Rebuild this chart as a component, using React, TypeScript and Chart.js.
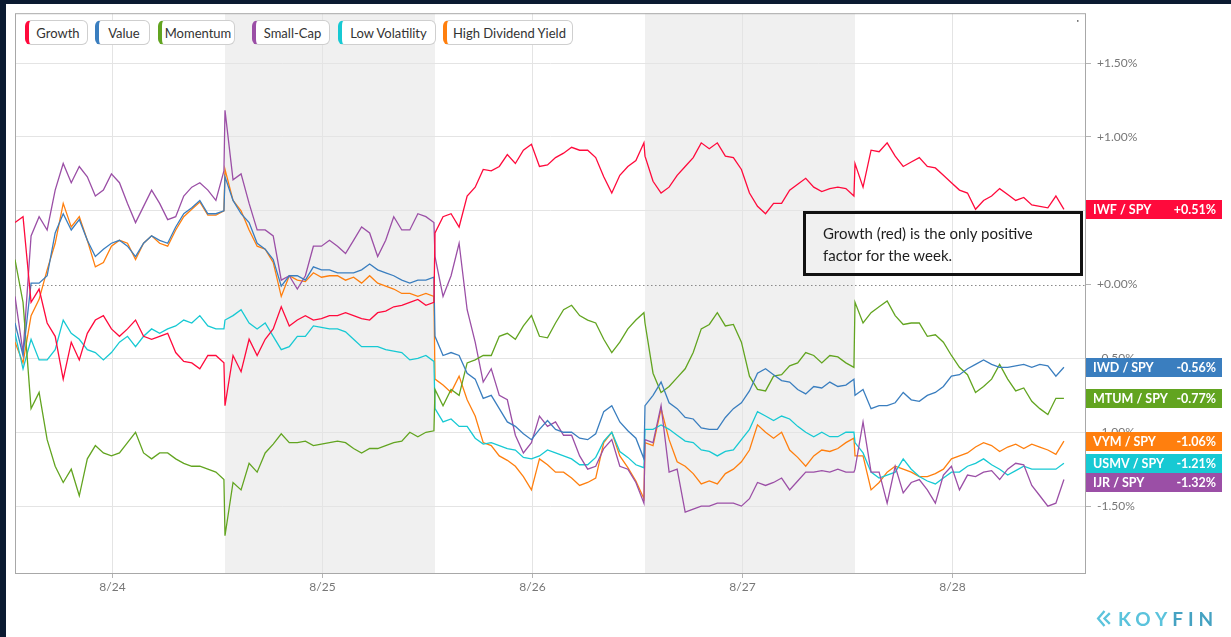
import React, { useEffect, useRef } from "react";
import { Chart, registerables } from "chart.js";

Chart.register(...registerables);

// ---- data ----
const DAY_LABELS = ["8/24", "8/25", "8/26", "8/27", "8/28"];
const MINUTES = [0, 15, 30, 45, 60, 75, 90, 105, 120, 135, 150, 165, 180, 195, 210, 225, 240, 255, 270, 285, 300, 315, 330, 345, 360, 375, 390];
const SESSION_MINUTES = 392;
const DAY_TICK_OFFSET = 0.464;
const SHADED_DAYS = [1, 3];
const Y_TICKS = [1.5, 1.0, 0.5, 0, -0.5, -1.0, -1.5];

const SERIES_NAMES = ["Growth", "Value", "Momentum", "Small-Cap", "Low Volatility", "High Dividend Yield"];
const TICKERS = ["IWF", "IWD", "MTUM", "IJR", "USMV", "VYM"];
const COLORS = ["#ff0a3c", "#3a7ebf", "#62a420", "#9b4fa6", "#17c9d3", "#ff7f0e"];

const growth = [
  0.42, 0.46, -0.12, -0.03, -0.26, -0.35, -0.64, -0.39, -0.51, -0.33, -0.24, -0.21, -0.30, -0.35, -0.30, -0.24, -0.35, -0.37, -0.35, -0.33, -0.46, -0.52, -0.53, -0.57, -0.48, -0.48, -0.53,
  -0.82, -0.48, -0.59, -0.37, -0.48, -0.37, -0.30, -0.15, -0.28, -0.24, -0.21, -0.24, -0.23, -0.21, -0.21, -0.19, -0.21, -0.23, -0.24, -0.19, -0.18, -0.15, -0.14, -0.12, -0.10, -0.14, -0.12,
  0.35, 0.46, 0.48, 0.39, 0.60, 0.66, 0.78, 0.77, 0.80, 0.88, 0.82, 0.91, 0.95, 0.80, 0.81, 0.86, 0.89, 0.93, 0.91, 0.91, 0.86, 0.73, 0.62, 0.74, 0.80, 0.84, 0.96,
  0.87, 0.70, 0.62, 0.66, 0.74, 0.80, 0.86, 0.96, 0.92, 0.96, 0.87, 0.86, 0.78, 0.62, 0.53, 0.48, 0.55, 0.55, 0.64, 0.68, 0.72, 0.66, 0.63, 0.65, 0.66, 0.65, 0.60,
  0.82, 0.66, 0.91, 0.90, 0.96, 0.87, 0.80, 0.83, 0.86, 0.80, 0.79, 0.74, 0.69, 0.64, 0.62, 0.51, 0.57, 0.60, 0.65, 0.61, 0.57, 0.59, 0.54, 0.53, 0.52, 0.60, 0.51,
];
const value = [
  -0.26, -0.48, 0.01, 0.01, 0.06, 0.35, 0.48, 0.37, 0.44, 0.30, 0.19, 0.24, 0.28, 0.30, 0.26, 0.19, 0.28, 0.33, 0.30, 0.28, 0.39, 0.48, 0.52, 0.57, 0.48, 0.48, 0.50,
  0.73, 0.57, 0.48, 0.42, 0.28, 0.24, 0.17, -0.01, 0.06, 0.06, 0.03, 0.12, 0.10, 0.10, 0.08, 0.08, 0.08, 0.10, 0.14, 0.10, 0.08, 0.06, 0.03, 0.01, 0.03, 0.03, 0.05,
  -0.35, -0.48, -0.46, -0.48, -0.60, -0.64, -0.77, -0.75, -0.84, -0.93, -0.96, -1.01, -1.05, -0.98, -0.92, -0.98, -1.00, -1.00, -1.04, -1.05, -1.01, -0.86, -0.82, -0.93, -0.99, -1.04, -1.18,
  -0.82, -0.75, -0.66, -0.80, -0.84, -0.90, -0.91, -0.97, -0.98, -0.98, -0.90, -0.84, -0.80, -0.72, -0.60, -0.57, -0.61, -0.65, -0.66, -0.71, -0.74, -0.69, -0.70, -0.66, -0.69, -0.68, -0.64,
  -0.75, -0.71, -0.84, -0.82, -0.82, -0.80, -0.73, -0.78, -0.79, -0.75, -0.73, -0.69, -0.62, -0.61, -0.57, -0.54, -0.51, -0.54, -0.56, -0.56, -0.55, -0.54, -0.56, -0.54, -0.55, -0.62, -0.56,
];
const momentum = [
  0.17, -0.12, -0.84, -0.73, -1.05, -1.23, -1.34, -1.25, -1.43, -1.18, -1.09, -1.14, -1.16, -1.14, -1.07, -1.00, -1.14, -1.18, -1.14, -1.14, -1.18, -1.21, -1.23, -1.23, -1.25, -1.27, -1.32,
  -1.70, -1.34, -1.39, -1.21, -1.27, -1.14, -1.08, -1.01, -1.07, -1.07, -1.06, -1.09, -1.08, -1.07, -1.06, -1.07, -1.11, -1.14, -1.11, -1.11, -1.09, -1.07, -1.06, -1.00, -1.03, -1.00, -0.99,
  -0.71, -0.82, -0.71, -0.75, -0.53, -0.51, -0.48, -0.48, -0.35, -0.33, -0.37, -0.28, -0.21, -0.35, -0.36, -0.26, -0.17, -0.14, -0.21, -0.24, -0.26, -0.37, -0.46, -0.39, -0.30, -0.24, -0.19,
  -0.26, -0.60, -0.73, -0.69, -0.63, -0.57, -0.46, -0.30, -0.27, -0.19, -0.28, -0.27, -0.39, -0.62, -0.71, -0.72, -0.62, -0.61, -0.55, -0.53, -0.46, -0.48, -0.53, -0.48, -0.49, -0.53, -0.56,
  -0.12, -0.26, -0.19, -0.15, -0.11, -0.21, -0.27, -0.26, -0.26, -0.35, -0.34, -0.39, -0.48, -0.56, -0.61, -0.73, -0.69, -0.64, -0.54, -0.64, -0.72, -0.70, -0.79, -0.84, -0.88, -0.77, -0.77,
];
const smallCap = [
  -0.08, -0.46, 0.33, 0.46, 0.37, 0.64, 0.82, 0.69, 0.80, 0.73, 0.60, 0.64, 0.75, 0.69, 0.55, 0.42, 0.53, 0.64, 0.55, 0.44, 0.46, 0.60, 0.66, 0.69, 0.64, 0.57, 0.77,
  1.18, 0.71, 0.75, 0.55, 0.37, 0.37, 0.33, 0.03, 0.06, -0.03, 0.06, 0.26, 0.26, 0.30, 0.26, 0.21, 0.30, 0.39, 0.35, 0.19, 0.30, 0.46, 0.37, 0.37, 0.48, 0.46, 0.42,
  0.19, -0.08, 0.06, 0.28, -0.17, -0.39, -0.66, -0.57, -0.75, -0.78, -1.02, -1.14, -1.07, -0.89, -0.96, -0.93, -1.02, -1.02, -1.16, -1.25, -1.23, -1.11, -1.05, -1.23, -1.25, -1.34, -1.48,
  -1.05, -1.07, -0.82, -1.27, -1.25, -1.54, -1.52, -1.50, -1.50, -1.48, -1.48, -1.48, -1.50, -1.45, -1.34, -1.36, -1.34, -1.31, -1.39, -1.33, -1.27, -1.27, -1.26, -1.27, -1.25, -1.27, -1.27,
  -1.25, -0.93, -1.27, -1.27, -1.48, -1.23, -1.41, -1.34, -1.32, -1.39, -1.48, -1.29, -1.23, -1.39, -1.29, -1.30, -1.27, -1.26, -1.32, -1.25, -1.21, -1.22, -1.36, -1.43, -1.50, -1.48, -1.32,
];
const lowVolatility = [
  -0.33, -0.57, -0.37, -0.51, -0.51, -0.44, -0.24, -0.33, -0.37, -0.44, -0.46, -0.51, -0.46, -0.39, -0.35, -0.42, -0.35, -0.30, -0.33, -0.30, -0.28, -0.24, -0.26, -0.21, -0.28, -0.30, -0.30,
  -0.24, -0.21, -0.17, -0.26, -0.30, -0.26, -0.35, -0.44, -0.42, -0.35, -0.35, -0.28, -0.29, -0.30, -0.30, -0.32, -0.37, -0.42, -0.42, -0.42, -0.44, -0.45, -0.46, -0.51, -0.50, -0.48, -0.52,
  -0.84, -0.93, -0.91, -0.96, -0.96, -1.04, -1.08, -1.07, -1.09, -1.11, -1.12, -1.17, -1.18, -1.16, -1.12, -1.14, -1.16, -1.18, -1.22, -1.22, -1.17, -1.06, -1.00, -1.13, -1.17, -1.22, -1.24,
  -0.98, -0.98, -0.95, -0.98, -1.02, -1.06, -1.07, -1.12, -1.13, -1.16, -1.13, -1.12, -1.05, -0.98, -0.86, -0.89, -0.92, -0.89, -0.91, -0.96, -1.00, -1.03, -1.00, -1.03, -1.03, -1.00, -1.00,
  -1.07, -1.14, -1.27, -1.31, -1.29, -1.27, -1.18, -1.25, -1.30, -1.33, -1.35, -1.31, -1.27, -1.27, -1.23, -1.21, -1.18, -1.22, -1.25, -1.29, -1.26, -1.23, -1.25, -1.25, -1.25, -1.25, -1.21,
];
const highDividendYield = [
  -0.39, -0.53, -0.21, -0.10, 0.10, 0.28, 0.55, 0.39, 0.46, 0.30, 0.12, 0.15, 0.26, 0.30, 0.28, 0.17, 0.28, 0.33, 0.28, 0.26, 0.37, 0.46, 0.51, 0.56, 0.47, 0.47, 0.50,
  0.78, 0.57, 0.50, 0.37, 0.26, 0.24, 0.15, -0.08, 0.06, 0.03, 0.02, 0.08, 0.05, 0.06, 0.06, 0.03, 0.05, 0.01, 0.06, 0.01, -0.01, -0.03, -0.06, -0.06, -0.08, -0.06, -0.08,
  -0.64, -0.68, -0.73, -0.62, -0.78, -0.89, -1.07, -1.09, -1.16, -1.19, -1.23, -1.30, -1.39, -1.18, -1.22, -1.27, -1.27, -1.31, -1.36, -1.34, -1.31, -1.07, -1.00, -1.16, -1.24, -1.33, -1.45,
  -1.07, -1.09, -0.84, -1.05, -1.20, -1.23, -1.28, -1.35, -1.33, -1.35, -1.28, -1.25, -1.20, -1.12, -0.95, -1.00, -1.04, -1.00, -1.12, -1.17, -1.23, -1.16, -1.12, -1.13, -1.11, -1.07, -1.04,
  -1.16, -1.16, -1.39, -1.34, -1.27, -1.23, -1.25, -1.27, -1.30, -1.30, -1.28, -1.25, -1.18, -1.16, -1.14, -1.10, -1.07, -1.09, -1.13, -1.10, -1.08, -1.11, -1.08, -1.10, -1.12, -1.15, -1.06,
];

const SERIES_VALUES = [growth, value, momentum, smallCap, lowVolatility, highDividendYield];

const ANNOTATION_LINES = ["Growth (red) is the only positive", "factor for the week."];

const FONT = "Lato, 'Open Sans', sans-serif";

function fmtPct(v: number) {
  const sign = v >= 0 ? "+" : "-";
  return sign + Math.abs(v).toFixed(2) + "%";
}

const BADGE_W = 136;
const BADGE_H = 19;

const bgPlugin = {
  id: "bgPlugin",
  beforeDraw(chart: any) {
    const { ctx, chartArea, scales } = chart;
    ctx.save();
    ctx.fillStyle = "#0b1a31";
    ctx.fillRect(0, 0, chart.width, chart.height);
    ctx.fillStyle = "#ffffff";
    ctx.fillRect(6, 4, chart.width - 6, chart.height - 4);
    ctx.fillStyle = "#f0f0f0";
    SHADED_DAYS.forEach((d) => {
      const x0 = scales.x.getPixelForValue(d);
      const x1 = scales.x.getPixelForValue(d + 1);
      ctx.fillRect(x0, chartArea.top, x1 - x0, chartArea.bottom - chartArea.top);
    });
    ctx.restore();
  },
  beforeDatasetsDraw(chart: any) {
    const { ctx, chartArea, scales } = chart;
    ctx.save();
    const y0 = Math.round(scales.y.getPixelForValue(0)) + 0.5;
    ctx.strokeStyle = "#8a8a8a";
    ctx.lineWidth = 1;
    ctx.setLineDash([1.5, 2.5]);
    ctx.beginPath();
    ctx.moveTo(chartArea.left, y0);
    ctx.lineTo(chartArea.right, y0);
    ctx.stroke();
    ctx.setLineDash([]);
    ctx.strokeStyle = "#a8a8a8";
    ctx.strokeRect(chartArea.left + 0.5, chartArea.top + 0.5, chartArea.right - chartArea.left - 1, chartArea.bottom - chartArea.top);
    ctx.fillStyle = "#555";
    ctx.fillRect(chartArea.right - 9, chartArea.top + 7, 1.5, 1.5);
    ctx.restore();
  },
  afterDraw(chart: any) {
    const { ctx, chartArea, scales } = chart;
    const items = SERIES_VALUES.map((vals, i) => {
      const last = vals[vals.length - 1];
      return { i, last, y: scales.y.getPixelForValue(last) };
    }).sort((a, b) => a.y - b.y);
    let prev = -Infinity;
    items.forEach((it) => {
      const c = Math.max(it.y, prev + BADGE_H + 0.5);
      prev = c;
      const x = chartArea.right;
      const top = Math.round(c - BADGE_H / 2);
      ctx.save();
      ctx.fillStyle = COLORS[it.i];
      ctx.fillRect(x, top, BADGE_W, BADGE_H);
      ctx.fillStyle = "#ffffff";
      ctx.font = "bold 12.5px " + FONT;
      ctx.textBaseline = "middle";
      ctx.textAlign = "left";
      ctx.fillText(TICKERS[it.i] + " / SPY", x + 7, top + BADGE_H / 2 + 0.5);
      ctx.textAlign = "right";
      ctx.fillText(fmtPct(it.last), x + BADGE_W - 6, top + BADGE_H / 2 + 0.5);
      ctx.restore();
    });
  },
};

function ChartCanvas() {
  const ref = useRef<HTMLCanvasElement | null>(null);
  useEffect(() => {
    if (!ref.current) return;
    const datasets = SERIES_NAMES.map((name, si) => ({
      label: name,
      data: SERIES_VALUES[si].map((v, k) => ({
        x: Math.floor(k / MINUTES.length) + MINUTES[k % MINUTES.length] / SESSION_MINUTES,
        y: v,
      })),
      borderColor: COLORS[si],
      backgroundColor: COLORS[si],
      borderWidth: 1.3,
      pointRadius: 0,
      tension: 0,
      fill: false,
    }));
    const chart = new Chart(ref.current, {
      type: "line",
      data: { datasets },
      options: {
        responsive: false,
        maintainAspectRatio: false,
        animation: false,
        layout: { padding: { left: 15, top: 12, right: 0, bottom: 0 } },
        plugins: { legend: { display: false }, tooltip: { enabled: false } },
        scales: {
          x: {
            type: "linear",
            min: 0,
            max: 5.1,
            afterBuildTicks: (s: any) => {
              s.ticks = DAY_LABELS.map((_, i) => ({ value: i + DAY_TICK_OFFSET }));
            },
            afterFit: (s: any) => {
              s.height = 64;
            },
            ticks: {
              autoSkip: false,
              maxRotation: 0,
              padding: 2,
              color: "#777",
              font: { family: FONT, size: 12 },
              callback: (_v: any, i: number) => DAY_LABELS[i],
            },
            grid: { color: "#e4e4e4", tickLength: 5, tickColor: "#b5b5b5" },
            border: { display: false },
          },
          y: {
            position: "right",
            min: -1.953,
            max: 1.838,
            afterBuildTicks: (s: any) => {
              s.ticks = Y_TICKS.map((v) => ({ value: v }));
            },
            afterFit: (s: any) => {
              s.width = 145;
            },
            ticks: {
              padding: 6,
              color: "#777",
              font: { family: FONT, size: 12 },
              callback: (v: any) => fmtPct(Number(v)),
            },
            grid: {
              color: (c: any) => (c.tick && c.tick.value === 0 ? "rgba(0,0,0,0)" : "#e4e4e4"),
              tickLength: 5,
              tickColor: "#b5b5b5",
            },
            border: { display: false },
          },
        },
      } as any,
      plugins: [bgPlugin],
    });
    return () => chart.destroy();
  }, []);
  return <canvas ref={ref} width={1231} height={637} style={{ position: "absolute", left: 0, top: 0, display: "block" }} />;
}

const LEGEND_BOXES = [
  { left: 25, width: 63 },
  { left: 95, width: 55 },
  { left: 158, width: 77 },
  { left: 252, width: 78 },
  { left: 338, width: 98 },
  { left: 443, width: 130 },
];

export default function App() {
  return (
    <div style={{ position: "fixed", left: 0, top: 0, width: 1231, height: 637, overflow: "hidden", background: "#0b1a31" }}>
      <ChartCanvas />
      {SERIES_NAMES.map((name, i) => (
        <div
          key={name}
          style={{
            position: "absolute",
            left: LEGEND_BOXES[i].left,
            top: 20,
            width: LEGEND_BOXES[i].width,
            height: 25,
            boxSizing: "border-box",
            border: "1px solid #cfcfcf",
            borderLeft: "4px solid " + COLORS[i],
            borderRadius: 6,
            background: "#fff",
            fontFamily: FONT,
            fontSize: 13,
            color: "#333",
            display: "flex",
            alignItems: "center",
            justifyContent: "center",
            whiteSpace: "nowrap",
          }}
        >
          {name}
        </div>
      ))}
      <div
        style={{
          position: "absolute",
          left: 803,
          top: 211,
          width: 280,
          height: 65,
          boxSizing: "border-box",
          border: "3px solid #111",
          padding: "8px 0 0 17px",
          fontFamily: FONT,
          fontSize: 15,
          lineHeight: "22px",
          color: "#1e1e1e",
        }}
      >
        {ANNOTATION_LINES.map((l) => (
          <div key={l}>{l}</div>
        ))}
      </div>
      <div style={{ position: "absolute", left: 1096, top: 607, display: "flex", alignItems: "center" }}>
        <svg width="17" height="17" viewBox="0 0 16 16" style={{ marginRight: 5 }}>
          <polyline points="8,1 2,8 8,15" fill="none" stroke="#5bc3dc" strokeWidth="2.2" />
          <polyline points="13,3 8,8 13,13" fill="none" stroke="#5bc3dc" strokeWidth="2.2" />
        </svg>
        <span style={{ fontFamily: FONT, fontWeight: 700, fontSize: 19, letterSpacing: 5, color: "#5bc3dc" }}>
          KOY<span style={{ color: "#45a2c2" }}>FIN</span>
        </span>
      </div>
    </div>
  );
}
